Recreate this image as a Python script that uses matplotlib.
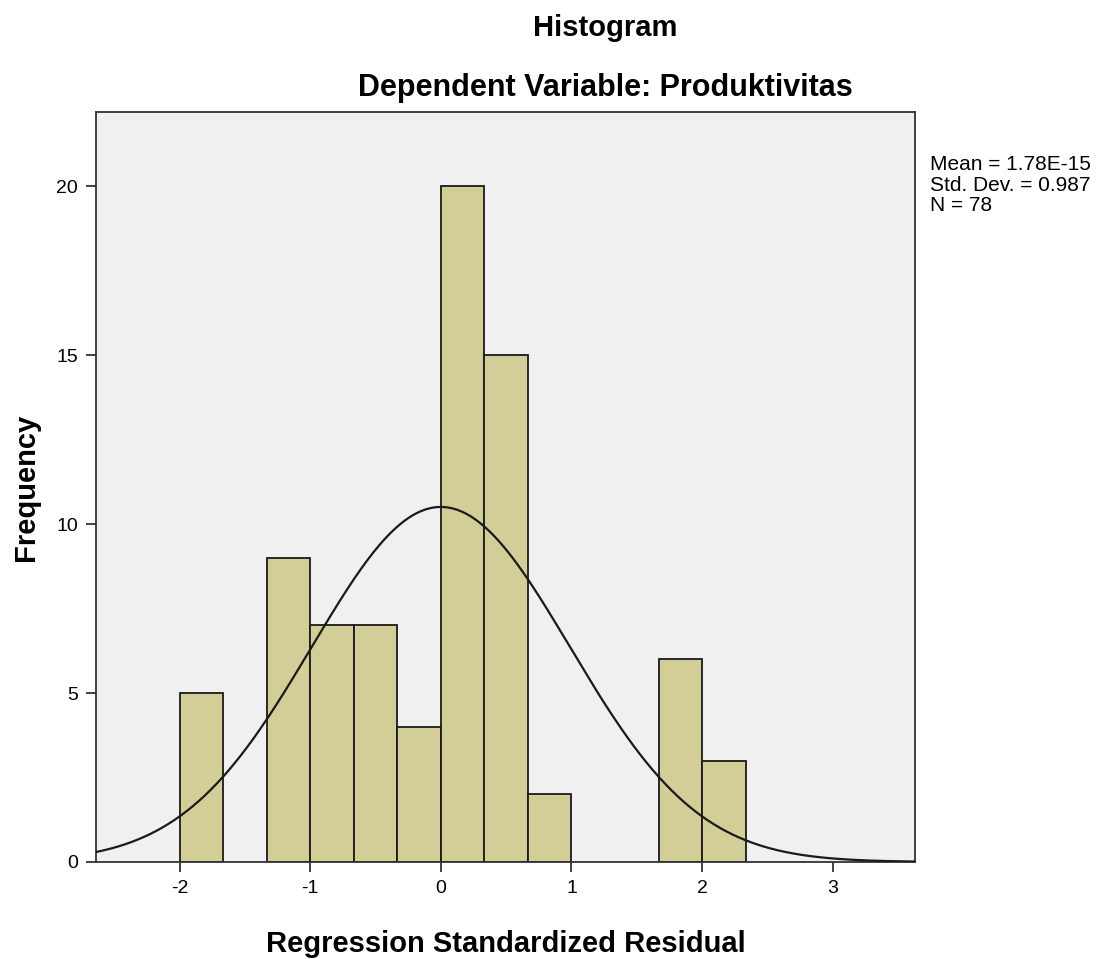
import numpy as np
import matplotlib.pyplot as plt

plt.rcParams['font.family'] = ['Liberation Sans', 'DejaVu Sans']

# bin edges (width 1/3) and counts
bin_edges = [-2, -5/3, -4/3, -1, -2/3, -1/3, 0, 1/3, 2/3, 1, 4/3, 5/3, 2, 7/3]
counts = [5, 0, 9, 7, 7, 4, 20, 15, 2, 0, 0, 6, 3]
x_ticks = [-2, -1, 0, 1, 2, 3]
y_ticks = [0, 5, 10, 15, 20]
mean = 1.78e-15
std = 0.987
n = 78

fig = plt.figure(figsize=(11, 9.59), dpi=100)
ax = fig.add_axes([0.0873, 0.1012, 0.7445, 0.782])
ax.set_facecolor('#f0f0f0')

lefts = np.array(bin_edges[:-1])
widths = np.diff(bin_edges)
for l, w, c in zip(lefts, widths, counts):
    if c > 0:
        ax.bar(l, c, width=w, align='edge', color='#d3ce97',
               edgecolor='#1a1a1a', linewidth=1.3, zorder=2)

# normal curve scaled to counts
x = np.linspace(-2.64, 3.63, 400)
bw = 1/3
y = n * bw / (std * np.sqrt(2 * np.pi)) * np.exp(-0.5 * ((x - mean) / std) ** 2)
ax.plot(x, y, color='#1a1a1a', linewidth=1.6, zorder=3)

ax.set_xlim(-2.64, 3.63)
ax.set_ylim(0, 22.2)
ax.set_xticks(x_ticks)
ax.set_xticklabels([str(t) for t in x_ticks])
ax.set_yticks(y_ticks)
ax.set_yticklabels([str(t) for t in y_ticks])
ax.tick_params(labelsize=14, length=7, width=1.3, color='#333333', pad=6)
for s in ax.spines.values():
    s.set_linewidth(1.3)
    s.set_color('#333333')

ax.set_xlabel('Regression Standardized Residual', fontsize=21, fontweight='bold', labelpad=24)
ax.set_ylabel('Frequency', fontsize=21, fontweight='bold', labelpad=12)

fig.text(0.55, 0.971, 'Histogram', ha='center', va='center', fontsize=21, fontweight='bold')
fig.text(0.55, 0.908, 'Dependent Variable: Produktivitas', ha='center', va='center',
         fontsize=22, fontweight='bold')

fig.text(0.845, 0.838, 'Mean = 1.78E-15\nStd. Dev. = 0.987\nN = 78', ha='left', va='top',
         fontsize=15, linespacing=1.1)

fig.savefig('out.png', dpi=100)
